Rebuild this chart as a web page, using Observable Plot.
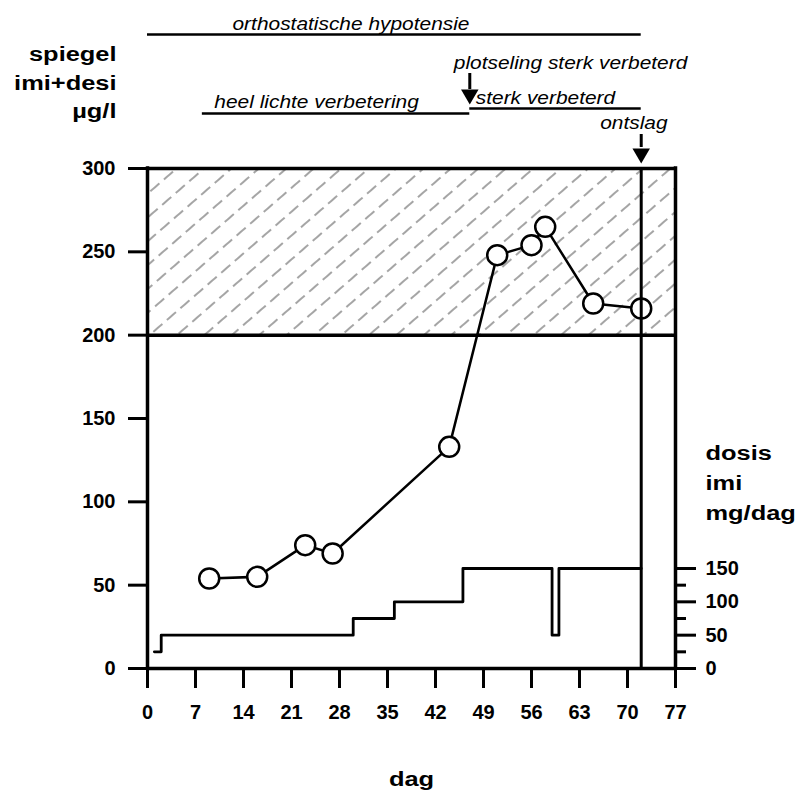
<!DOCTYPE html>
<html><head><meta charset="utf-8">
<script src="https://cdn.jsdelivr.net/npm/d3@7"></script>
<script src="https://cdn.jsdelivr.net/npm/@observablehq/plot@0.6"></script>
<style>body{margin:0;background:#fff}</style>
</head><body>
<div id="chart"></div>
<script>
// ---------- data ----------
const sampleDays   = [9, 16, 23, 27, 44, 51, 56, 58, 65, 72];
const levels       = [54, 55, 74, 69, 133, 248, 254, 265, 219, 216]; // µg/l imi+desi
const doseDays     = [1, 2, 30, 36, 46, 59, 60, 72];
const doses        = [25, 50, 75, 100, 150, 50, 150, 150];          // mg/dag imi
const dayTicks     = [0, 7, 14, 21, 28, 35, 42, 49, 56, 63, 70, 77];
const levelTicks   = [0, 50, 100, 150, 200, 250, 300];
const doseTicks    = [0, 50, 100, 150];
const doseMinor    = [25, 75, 125];
const levelDomain  = [0, 300];
const dayDomain    = [0, 77];
const toxicRange   = [200, 300];
const dischargeDay = 72;
const doseRatio    = 2.5; // dose 150 mg ↔ level 60 on the left scale
const periods = [
  {label: "orthostatische hypotensie", start: 0, end: 72},
  {label: "heel lichte verbetering", start: 8, end: 47},
  {label: "sterk verbeterd", start: 47, end: 72}
];
const events = [
  {label: "plotseling sterk verbeterd", day: 47},
  {label: "ontslag", day: 72}
];
const levelLabel = ["spiegel", "imi+desi", "µg/l"];
const doseLabel  = ["dosis", "imi", "mg/dag"];
const dayLabel   = "dag";

const levelData = sampleDays.map((d, i) => ({day: d, level: levels[i]}));
const doseData  = doseDays.map((d, i) => ({day: d, dose: doses[i]}));

// ---------- layout ----------
const FONT = "'Liberation Sans', Arial, Helvetica, sans-serif";
const periodLayout = [
  {lineDy: -134, textDx: 85, textDy: -139},
  {lineDy: -55,  textDx: 12, textDy: -61},
  {lineDy: -60,  textDx: 6,  textDy: -65}
];
const eventLayout = [
  {textDx: -16, textDy: -100, shaftDy: -79, shaftLen: 16, headDy: -74},
  {textDx: -41, textDy: -40,  shaftDy: -21, shaftLen: 13, headDy: -15}
];
const levelLabelDy = [-108, -79, -51];
const doseLabelDy  = [291, 321, 351];

const hatchDefs = () => {
  const defs = d3.create("svg:defs");
  const p = defs.append("pattern").attr("id", "hatch")
    .attr("patternUnits", "userSpaceOnUse").attr("width", 18).attr("height", 18)
    .attr("patternTransform", "rotate(49)");
  p.append("line").attr("x1", 9).attr("y1", 0).attr("x2", 9).attr("y2", 18)
    .attr("stroke", "#5a5a5a").attr("stroke-width", 1.1).attr("stroke-dasharray", "12 6");
  return defs.node();
};

const marks = [
  hatchDefs,
  Plot.rect([toxicRange], {x1: dayDomain[0], x2: dayDomain[1], y1: d => d[0], y2: d => d[1], fill: "url(#hatch)"}),
  // frame
  Plot.ruleY(toxicRange, {x1: dayDomain[0], x2: dayDomain[1], strokeWidth: 3.5}),
  Plot.ruleY([0], {x1: dayDomain[0], x2: dayDomain[1], strokeWidth: 3.5}),
  Plot.ruleX(dayDomain, {y1: levelDomain[0], y2: levelDomain[1], strokeWidth: 3.5, strokeLinecap: "square"}),
  // axes
  Plot.axisY({ticks: levelTicks, anchor: "left", tickSize: 19, tickPadding: 13, fontSize: 20, fontWeight: "bold", strokeWidth: 3, label: null}),
  Plot.axisX({ticks: dayTicks, anchor: "bottom", tickSize: 20, tickPadding: 16, fontSize: 20, fontWeight: "bold", strokeWidth: 3, label: null}),
  Plot.axisY({ticks: doseTicks.map(d => d / doseRatio), anchor: "right", tickSize: 20, tickPadding: 10, tickFormat: d => d * doseRatio, fontSize: 20, fontWeight: "bold", strokeWidth: 3, label: null}),
  Plot.axisY({ticks: doseMinor.map(d => d / doseRatio), anchor: "right", tickSize: 10, tickFormat: () => "", strokeWidth: 3, label: null}),
  // dose step line
  Plot.line(doseData, {x: "day", y: d => d.dose / doseRatio, curve: "step-after", strokeWidth: 2.8}),
  // level line + circles
  Plot.line(levelData, {x: "day", y: "level", strokeWidth: 2.5}),
  Plot.dot(levelData, {x: "day", y: "level", r: 10, fill: "white", stroke: "black", strokeWidth: 2.5}),
  // discharge
  Plot.ruleX([dischargeDay], {y1: levelDomain[0], y2: levelDomain[1], strokeWidth: 3})
];

// period annotations
periods.forEach((p, i) => {
  const L = periodLayout[i];
  marks.push(Plot.ruleY([p], {y: () => levelDomain[1], x1: "start", x2: "end", dy: L.lineDy, strokeWidth: 2.5}));
  marks.push(Plot.text([p], {x: "start", text: "label", frameAnchor: "top", textAnchor: "start", lineAnchor: "bottom",
    dx: L.textDx, dy: L.textDy, fontSize: 19, fontStyle: "italic", ariaLabel: () => "annotation"}));
});
// event annotations with arrows
events.forEach((e, i) => {
  const L = eventLayout[i];
  marks.push(Plot.text([e], {x: "day", text: "label", frameAnchor: "top", textAnchor: "start", lineAnchor: "bottom",
    dx: L.textDx, dy: L.textDy, fontSize: 19, fontStyle: "italic", ariaLabel: () => "annotation"}));
  marks.push(Plot.ruleX([e], {x: "day", y1: () => levelDomain[1], y2: () => levelDomain[1], insetTop: -L.shaftLen, dy: L.shaftDy, strokeWidth: 3}));
  marks.push(Plot.dot([e], {x: "day", frameAnchor: "top", dy: L.headDy, symbol: "triangle", rotate: 180, r: 6.5, fill: "black", stroke: "none"}));
});
// axis titles
levelLabel.forEach((t, i) => marks.push(Plot.text([t], {text: d => d, frameAnchor: "top-left", textAnchor: "end", lineAnchor: "bottom",
  dx: -31, dy: levelLabelDy[i], fontSize: 20, fontWeight: "bold", ariaLabel: () => "bold-label"})));
doseLabel.forEach((t, i) => marks.push(Plot.text([t], {text: d => d, frameAnchor: "top-right", textAnchor: "start", lineAnchor: "bottom",
  dx: 30, dy: doseLabelDy[i], fontSize: 20, fontWeight: "bold", ariaLabel: () => "bold-label"})));
marks.push(Plot.text([dayLabel], {text: d => d, frameAnchor: "bottom", textAnchor: "middle", lineAnchor: "bottom",
  dy: 117, fontSize: 20, fontWeight: "bold", ariaLabel: () => "bold-label"}));

const plot = Plot.plot({
  width: 798, height: 792,
  marginTop: 168, marginRight: 123, marginBottom: 124, marginLeft: 147,
  style: {fontFamily: FONT, background: "white", color: "black"},
  x: {domain: dayDomain},
  y: {domain: levelDomain},
  marks
});
document.getElementById("chart").append(plot);

// widen glyphs horizontally (the original lettering is broader), keeping each label's anchor:
// re-anchor at start and offset by the stretched width so end/middle alignment holds
function stretch(label, factor) {
  const nodes = new Set();
  plot.querySelectorAll(`[aria-label="${label}"]`).forEach(el => {
    if (el.tagName.toLowerCase() === "text") nodes.add(el);
    else el.querySelectorAll("text").forEach(t => nodes.add(t));
  });
  nodes.forEach(t => {
    const w = t.getComputedTextLength();
    if (!(w > 0)) return;
    const anchor = getComputedStyle(t).textAnchor;
    const W = w * factor;
    t.setAttribute("text-anchor", "start");
    t.setAttribute("textLength", W.toFixed(1));
    t.setAttribute("lengthAdjust", "spacingAndGlyphs");
    const shift = anchor === "end" ? -W : anchor === "middle" ? -W / 2 : 0;
    if (shift) t.setAttribute("dx", shift.toFixed(1));
  });
}
stretch("bold-label", 1.27);
stretch("annotation", 1.1);
</script>
</body></html>
